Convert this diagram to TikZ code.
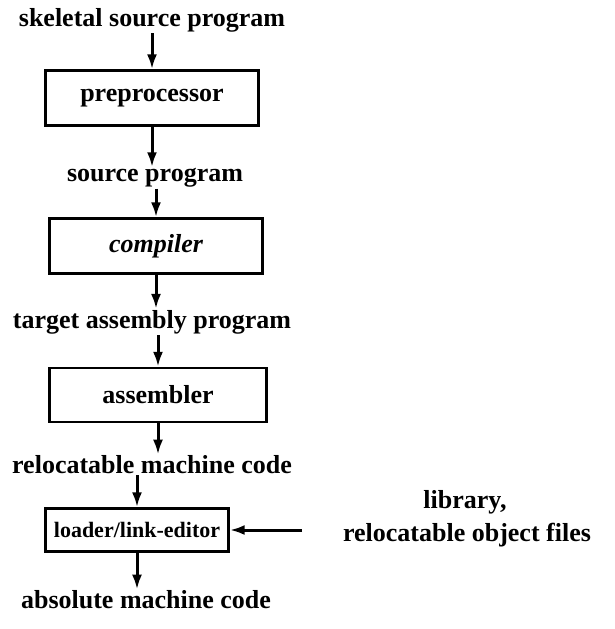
\documentclass[tikz,border=0pt]{standalone}
\usepackage{fontspec}
\setmainfont{Liberation Serif}
\usetikzlibrary{arrows.meta}
\tikzset{
  stage/.style={draw, line width=2.4pt, minimum width=#1, minimum height=55pt, inner sep=0pt},
  lbl/.style={inner sep=1pt},
  flow/.style={line width=3pt, -{Latex[length=15pt,width=10pt]}}
}
\begin{document}
\begin{tikzpicture}[x=1pt,y=1pt,font=\fontsize{26}{30}\selectfont\bfseries]
\useasboundingbox (0,0) rectangle (615,-629);
\node[lbl] (skel) at (152,-20) {skeletal source program};
\node[stage=213pt] (pre) at (152,-98) {preprocessor};
\node[lbl] (src) at (155,-178) {source program};
\node[stage=213pt] (comp) at (156,-246) {\itshape compiler};
\node[lbl] (tgt) at (152,-322) {target assembly program};
\node[stage=217pt, minimum height=54pt] (asm) at (158,-395) {assembler};
\node[lbl] (reloc) at (152,-465) {relocatable machine code};
\node[stage=183pt, minimum height=43pt, font=\fontsize{22}{26}\selectfont\bfseries] (load) at (137,-530) {loader/link-editor};
\node[lbl] (abs) at (146,-600) {absolute machine code};
\node[lbl] (lib) at (465,-502) {library,};
\node[lbl] (relobj) at (467,-535) {relocatable object files};
\coordinate (libin) at (302,-530);
\draw[flow] (skel.south -| pre.north) -- (pre.north);
\draw[flow] (pre.south) -- (pre.south |- src.north);
\draw[flow] (src.south -| comp.north) -- (comp.north);
\draw[flow] (comp.south) -- (comp.south |- tgt.north);
\draw[flow] (tgt.south -| asm.north) -- (asm.north);
\draw[flow] (asm.south) -- (asm.south |- reloc.north);
\draw[flow] (reloc.south -| load.north) -- (load.north);
\draw[flow] (load.south) -- (load.south |- abs.north);
\draw[flow] (libin) -- (load.east);
\end{tikzpicture}
\end{document}
